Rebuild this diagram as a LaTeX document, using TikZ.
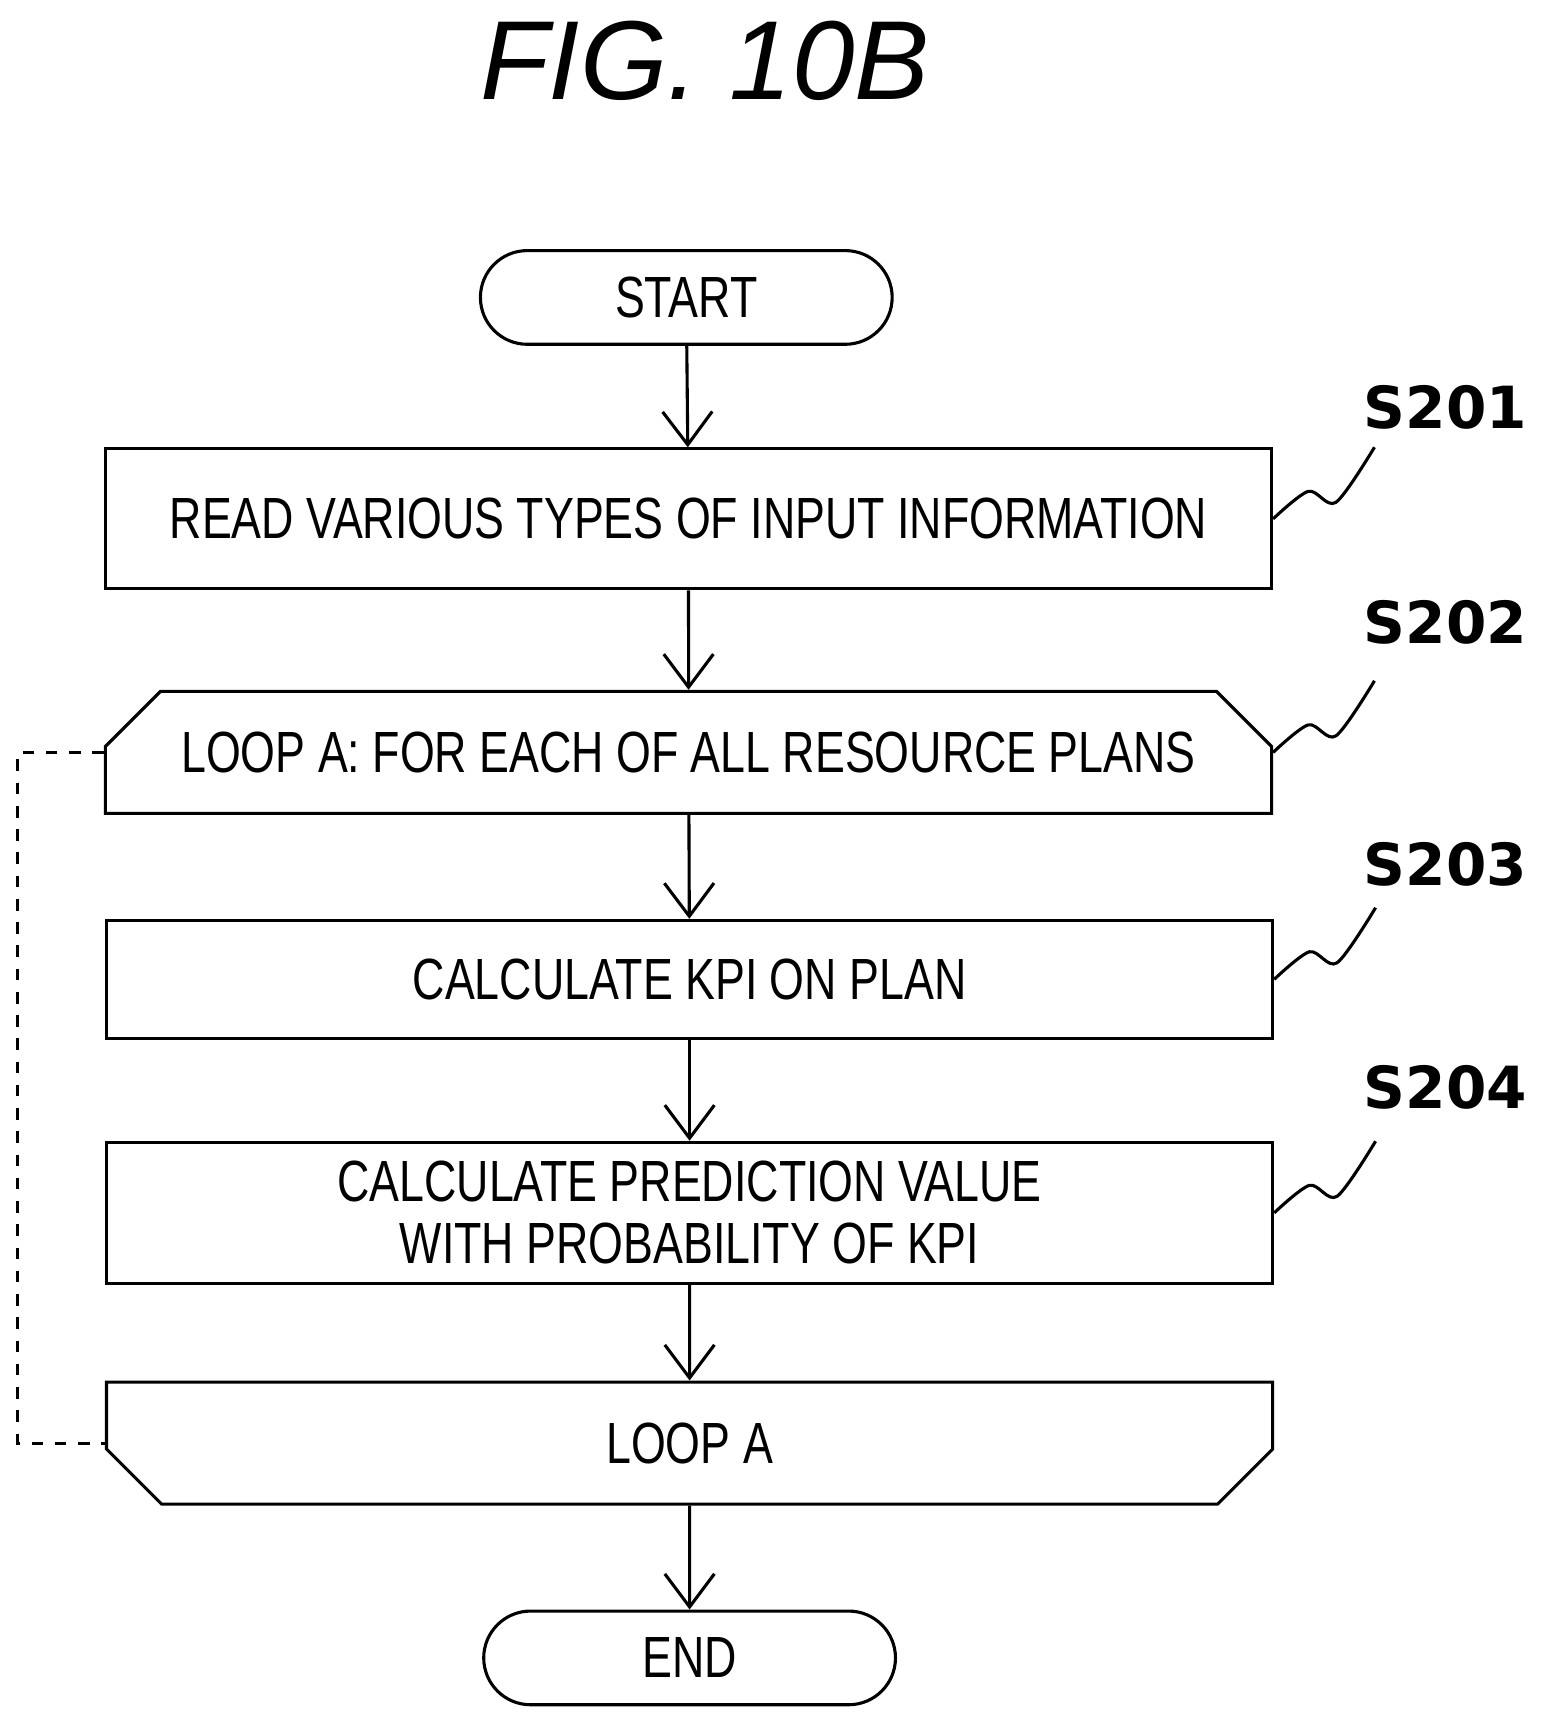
\documentclass[tikz,border=0pt]{standalone}
\usepackage{fontspec}
\setmainfont{Liberation Sans}
\newfontfamily\narrowfont[FakeStretch=0.77]{Liberation Sans}
\newfontfamily\labelfont{DejaVu Sans}
\usetikzlibrary{shapes.misc,arrows.meta,positioning,calc}

\begin{document}
\begin{tikzpicture}[x=0.01cm,y=-0.01cm]
\tikzset{stepbox/.style={draw,thick,rectangle,minimum width=10.58cm,minimum height=1.07cm,font=\narrowfont\fontsize{15}{16}\selectfont,align=center},
terminal/.style={draw,thick,rounded rectangle,minimum width=3.97cm,minimum height=0.85cm,font=\narrowfont\fontsize{15}{17}\selectfont},
loopbox/.style={stepbox,chamfered rectangle,chamfered rectangle xsep=0.25cm,chamfered rectangle ysep=0.25cm},
flow/.style={thick,-{Straight Barb[length=0.3cm,width=0.45cm]}},
steplabel/.style={font=\labelfont\bfseries\fontsize{15}{17}\selectfont}}
\useasboundingbox (0,0) rectangle (1410,1575);
\node[font=\itshape\fontsize{29}{32}\selectfont] (title) at (640,55) {FIG. 10B};
\node[terminal] (start) at (623,270) {START};
\node[stepbox,minimum height=1.27cm] (read) at (625,471) {READ VARIOUS TYPES OF INPUT INFORMATION};
\node[loopbox,minimum height=1.08cm,chamfered rectangle corners={north west,north east}] (loopa) at (625,683) {LOOP A: FOR EACH OF ALL RESOURCE PLANS};
\node[stepbox] (kpi) at (626,889) {CALCULATE KPI ON PLAN};
\node[stepbox,minimum height=1.28cm] (pred) at (626,1101) {CALCULATE PREDICTION VALUE\\WITH PROBABILITY OF KPI};
\node[loopbox,chamfered rectangle corners={south west,south east}] (loopend) at (626,1310) {LOOP A};
\node[terminal] (end) at (626,1505) {END};
% arrows
\draw[flow] (start) -- (read);
\draw[flow] (read) -- (loopa);
\draw[flow] (loopa) -- (kpi);
\draw[flow] (kpi) -- (pred);
\draw[flow] (pred) -- (loopend);
\draw[flow] (loopend) -- (end);
% loop return
\draw[thick,dashed] (loopa.west) -- ++(-78,0) |- (loopend.west);
% step labels
\foreach \nd/\lab/\ly in {read/S201/370,loopa/S202/565,kpi/S203/785,pred/S204/987}{
  \node[steplabel] (l\lab) at (1312,\ly) {\lab};
  \draw[thick] plot[smooth] coordinates {(\nd.east) ($(\nd.east)+(32,-25)$) ($(\nd.east)+(57,-15)$) ($(\nd.east)+(92,-65)$)};
}
\end{tikzpicture}
\end{document}
